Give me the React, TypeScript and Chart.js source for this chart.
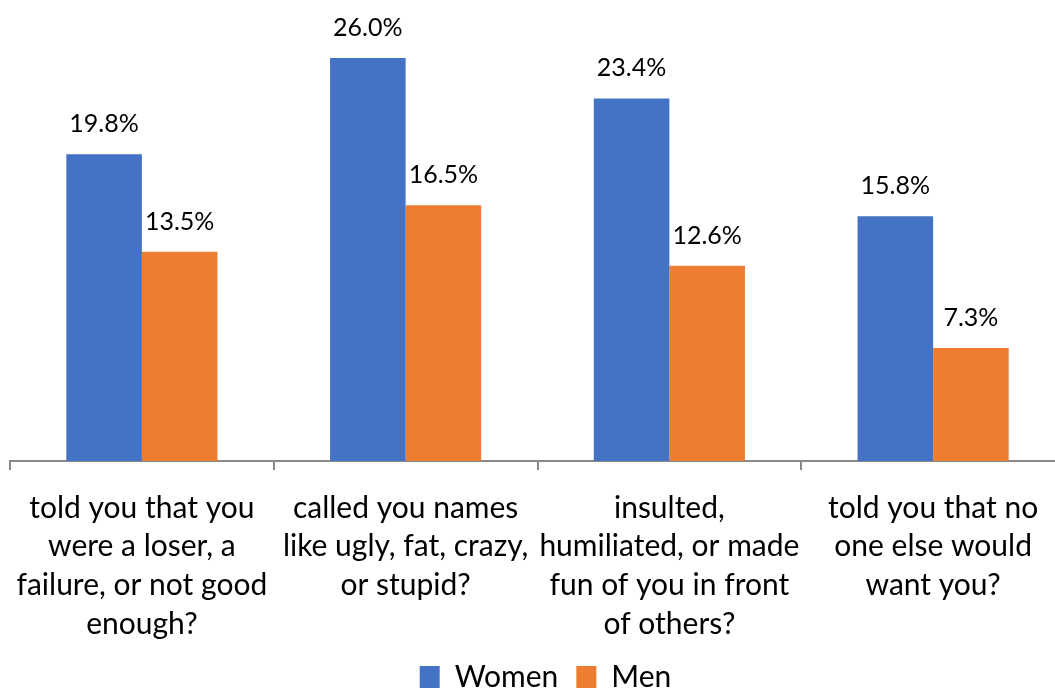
import React, { useEffect, useRef } from "react";
import { Chart, registerables } from "chart.js";

Chart.register(...registerables);

const categories: string[][] = [
  ["told you that you", "were a loser, a", "failure, or not good", "enough?"],
  ["called you names", "like ugly, fat, crazy,", "or stupid?"],
  ["insulted,", "humiliated, or made", "fun of you in front", "of others?"],
  ["told you that no", "one else would", "want you?"],
];
const women: number[] = [19.8, 26.0, 23.4, 15.8];
const men: number[] = [13.5, 16.5, 12.6, 7.3];

const FONT = "Lato, 'Noto Sans', sans-serif";

const dataLabelPlugin = {
  id: "barValueLabels",
  afterDatasetsDraw(chart: any) {
    const ctx = chart.ctx;
    ctx.save();
    ctx.font = `25px ${FONT}`;
    ctx.fillStyle = "#000000";
    ctx.textAlign = "center";
    ctx.textBaseline = "alphabetic";
    chart.data.datasets.forEach((ds: any, i: number) => {
      const meta = chart.getDatasetMeta(i);
      meta.data.forEach((bar: any, j: number) => {
        ctx.fillText(Number(ds.data[j]).toFixed(1) + "%", bar.x, bar.y - 22);
      });
    });
    ctx.restore();
  },
};

const legendShiftPlugin = {
  id: "legendShift",
  afterLayout(chart: any) {
    const lg = chart.legend;
    if (lg) {
      lg.left += 8;
      lg.right += 8;
    }
  },
};

export default function App() {
  const canvasRef = useRef<HTMLCanvasElement | null>(null);

  useEffect(() => {
    if (!canvasRef.current) return;
    const chart = new Chart(canvasRef.current, {
      type: "bar",
      data: {
        labels: categories,
        datasets: [
          {
            label: "Women",
            data: women,
            backgroundColor: "#4472C4",
            categoryPercentage: 0.573,
            barPercentage: 1.0,
          },
          {
            label: "Men",
            data: men,
            backgroundColor: "#ED7D31",
            categoryPercentage: 0.573,
            barPercentage: 1.0,
          },
        ],
      },
      options: {
        animation: false,
        responsive: true,
        maintainAspectRatio: false,
        layout: { padding: { left: 10, right: 0, top: 0, bottom: 0 } },
        scales: {
          y: {
            display: false,
            min: 0,
            max: 29.75,
          },
          x: {
            afterFit: (scale: any) => {
              scale.height = 183;
              scale.paddingLeft = 0;
              scale.paddingRight = 0;
            },
            grid: {
              drawOnChartArea: false,
              drawTicks: true,
              tickLength: 9,
              color: "#898989",
              lineWidth: 2,
            },
            border: { display: true, color: "#898989", width: 2 },
            ticks: {
              color: "#000000",
              padding: 18.5,
              maxRotation: 0,
              autoSkip: false,
              font: { family: FONT, size: 30, lineHeight: 1.29 },
            },
          },
        },
        plugins: {
          legend: {
            position: "bottom",
            labels: {
              boxWidth: 20,
              boxHeight: 22,
              padding: 18,
              color: "#000000",
              font: { family: FONT, size: 30 },
            },
          },
          tooltip: { enabled: false },
        },
      },
      plugins: [dataLabelPlugin, legendShiftPlugin],
    });
    return () => chart.destroy();
  }, []);

  return (
    <div
      style={{
        position: "fixed",
        left: 0,
        top: 0,
        width: 1055,
        height: 691,
        overflow: "hidden",
        background: "#ffffff",
      }}
    >
      <div style={{ position: "relative", width: 1065, height: 702 }}>
        <canvas ref={canvasRef} />
      </div>
    </div>
  );
}
